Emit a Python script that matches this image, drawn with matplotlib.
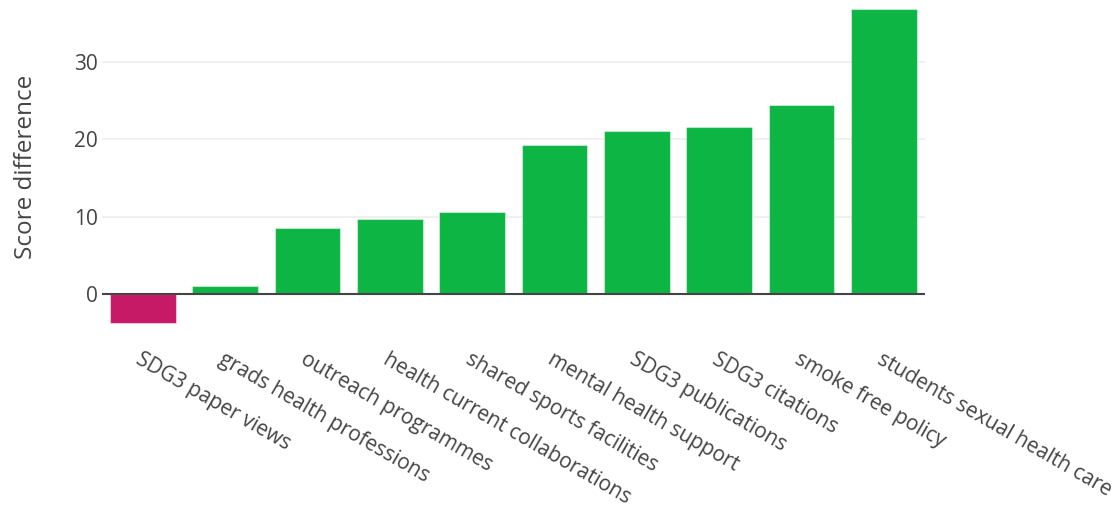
import matplotlib.pyplot as plt

# data
categories = [
    "SDG3 paper views",
    "grads health professions",
    "outreach programmes",
    "health current collaborations",
    "shared sports facilities",
    "mental health support",
    "SDG3 publications",
    "SDG3 citations",
    "smoke free policy",
    "students sexual health care",
]
score_diff = [-3.75, 1.07, 8.5, 9.7, 10.6, 19.3, 21.1, 21.6, 24.4, 36.9]

plt.rcParams['font.family'] = ['Open Sans', 'DejaVu Sans']
text_color = '#444444'

fig = plt.figure(figsize=(11.19, 5.09), dpi=100)
W, H = 1119, 509
# plot area in pixels: x 101.7..925, y 8.7 (top) .. 325.2 (bottom)
left, right, top, bottom = 101.7, 925.0, 8.7, 325.2
ax = fig.add_axes([left / W, 1 - bottom / H, (right - left) / W, (bottom - top) / H])

colors = ['#C71A66' if v < 0 else '#0DB545' for v in score_diff]
x = range(len(categories))
ax.bar(x, score_diff, width=0.8, color=colors,
       edgecolor=(1, 1, 1, 0.45), linewidth=0.8, zorder=3)

ax.set_xlim(-0.5, len(categories) - 0.5)
ax.set_ylim(-4.0, 36.9)

ax.set_yticks([0, 10, 20, 30])
ax.grid(axis='y', color='#eeeeee', linewidth=1.2, zorder=0)
ax.axhline(0, color='#444444', linewidth=1.5, zorder=4)
for s in ax.spines.values():
    s.set_visible(False)

ax.tick_params(axis='both', length=0, colors=text_color, labelsize=15)
ax.tick_params(axis='y', pad=3)
ax.set_xticks(list(x))
ax.set_xticklabels(categories, rotation=-30, ha='left', va='top',
                   rotation_mode='anchor')
ax.tick_params(axis='x', pad=17)

ax.set_ylabel("Score difference", fontsize=17.5, color=text_color)
ax.yaxis.set_label_coords((38 - left) / (right - left), 0.5)

fig.savefig('out.png', dpi=100)
